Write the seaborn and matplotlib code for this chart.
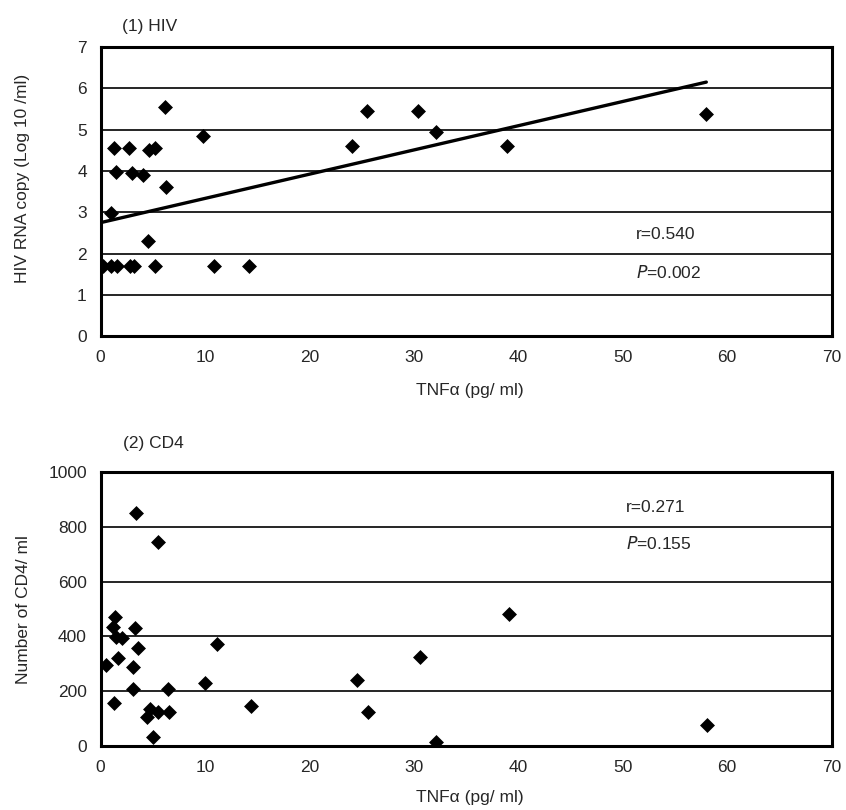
import numpy as np
import pandas as pd
import matplotlib
matplotlib.use('Agg')
import matplotlib.pyplot as plt
import seaborn as sns

# (1) HIV: TNFa (pg/ml) vs HIV RNA copy (log10/ml)
hiv_tnf = [6.2, 9.8, 1.3, 2.7, 4.6, 5.2, 1.5, 3.0, 4.1, 6.3, 1.0, 4.5,
           0.2, 1.0, 1.6, 2.8, 3.2, 5.2, 10.9, 14.2,
           24.1, 25.5, 30.4, 32.1, 38.9, 58.0]
hiv_rna = [5.55, 4.85, 4.55, 4.55, 4.5, 4.55, 3.97, 3.95, 3.9, 3.6, 2.98, 2.3,
           1.7, 1.7, 1.7, 1.7, 1.7, 1.7, 1.7, 1.7,
           4.6, 5.45, 5.45, 4.95, 4.6, 5.38]
fit_x = [0.2, 58.0]
fit_y = [2.76, 6.15]

# (2) CD4: TNFa (pg/ml) vs CD4 count
cd4_tnf = [3.4, 5.5, 1.4, 1.2, 1.5, 2.0, 3.3, 3.6, 11.1, 1.7, 0.5, 3.1,
           3.1, 6.4, 10.0, 1.3, 4.7, 5.5, 4.4, 6.5, 14.4, 5.0,
           24.5, 25.6, 30.6, 39.1, 32.1, 58.1]
cd4_cnt = [851, 746, 472, 435, 398, 394, 430, 357, 371, 320, 296, 289,
           210, 210, 231, 158, 137, 125, 107, 125, 146, 32,
           241, 125, 326, 481, 16, 77]

x_ticks = [0, 10, 20, 30, 40, 50, 60, 70]
hiv_ticks = [0, 1, 2, 3, 4, 5, 6, 7]
cd4_ticks = [0, 200, 400, 600, 800, 1000]

sns.set_style('white')
plt.rcParams['font.family'] = ['Liberation Sans', 'DejaVu Sans']
FS = 12.5

hiv_df = pd.DataFrame({'tnf': hiv_tnf, 'rna': hiv_rna})
cd4_df = pd.DataFrame({'tnf': cd4_tnf, 'cd4': cd4_cnt})

fig = plt.figure(figsize=(8.46, 8.10), dpi=100)
ax1 = fig.add_axes([0.119, 0.585, 0.864, 0.357])
ax2 = fig.add_axes([0.119, 0.079, 0.864, 0.338])


def style_axis(ax, yticks):
    ax.set_xlim(0, 70)
    ax.set_ylim(yticks[0], yticks[-1])
    ax.set_xticks(x_ticks)
    ax.set_yticks(yticks)
    for y in yticks[1:-1]:
        ax.axhline(y, color='black', lw=1.2, zorder=0)
    for sp in ax.spines.values():
        sp.set_visible(True)
        sp.set_color('black')
        sp.set_linewidth(2.2)
    ax.tick_params(axis='x', direction='in', length=4, width=1, pad=10, labelsize=FS)
    ax.tick_params(axis='y', direction='out', length=3, width=1, pad=7, labelsize=FS)


sns.scatterplot(data=hiv_df, x='tnf', y='rna', marker='D', color='black',
                s=58, linewidth=0, ax=ax1, zorder=3)
sns.lineplot(x=fit_x, y=fit_y, color='black', lw=2.4, ax=ax1, zorder=2)
style_axis(ax1, hiv_ticks)
ax1.set_xlabel('TNFα (pg/ ml)', fontsize=FS)
ax1.set_ylabel('HIV RNA copy (Log 10 /ml)', fontsize=FS)
ax1.xaxis.set_label_coords(0.505, -0.163)
ax1.yaxis.set_label_coords(-0.097, 0.547)
ax1.text(51.3, 2.45, 'r=0.540', ha='left', va='center', fontsize=FS)
ax1.text(51.3, 1.55, r'$\it{P}$=0.002', ha='left', va='center', fontsize=FS)

sns.scatterplot(data=cd4_df, x='tnf', y='cd4', marker='D', color='black',
                s=58, linewidth=0, ax=ax2, zorder=3)
style_axis(ax2, cd4_ticks)
ax2.set_xlabel('TNFα (pg/ ml)', fontsize=FS)
ax2.set_ylabel('Number of CD4/ ml', fontsize=FS)
ax2.xaxis.set_label_coords(0.505, -0.161)
ax2.yaxis.set_label_coords(-0.095, 0.5)
ax2.text(50.3, 872, 'r=0.271', ha='left', va='center', fontsize=FS)
ax2.text(50.3, 741, r'$\it{P}$=0.155', ha='left', va='center', fontsize=FS)

fig.text(0.144, 0.967, '(1) HIV', ha='left', va='center', fontsize=FS)
fig.text(0.145, 0.452, '(2) CD4', ha='left', va='center', fontsize=FS)

fig.savefig('out.png', dpi=100, facecolor='white')
